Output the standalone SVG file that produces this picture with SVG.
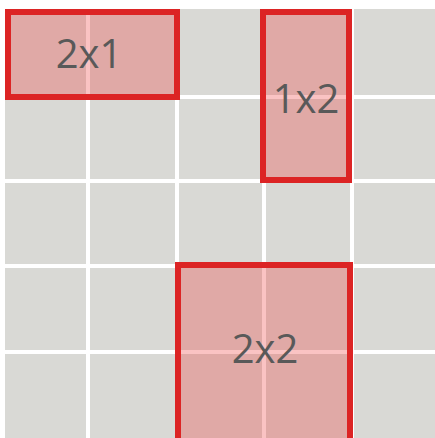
<svg xmlns="http://www.w3.org/2000/svg" width="435" height="438" viewBox="0 0 435 438">
<style>
.grid{stroke:#ffffff;stroke-width:4}
.box{fill:#ee3c3c;fill-opacity:0.31;stroke:#dc2424;stroke-width:6}
.lbl{font-family:"Open Sans","Liberation Sans",sans-serif;font-size:40px;fill:#595959;text-anchor:middle}
</style>
<rect x="0" y="0" width="435" height="438" fill="#ffffff"/>
<rect x="5" y="9" width="430" height="429" fill="#d9d9d5"/>
<g id="grid-lines">
<line class="grid" x1="88" y1="9" x2="88" y2="438"/>
<line class="grid" x1="177" y1="9" x2="177" y2="438"/>
<line class="grid" x1="264" y1="9" x2="264" y2="438"/>
<line class="grid" x1="352" y1="9" x2="352" y2="438"/>
<line class="grid" x1="5" y1="97" x2="435" y2="97"/>
<line class="grid" x1="5" y1="181" x2="435" y2="181"/>
<line class="grid" x1="5" y1="266" x2="435" y2="266"/>
<line class="grid" x1="5" y1="352" x2="435" y2="352"/>
</g>
<g id="tile-2x1">
<rect class="box" x="8" y="12" width="169" height="85"/>
<text class="lbl" x="89" y="68">2x1</text>
</g>
<g id="tile-1x2">
<rect class="box" x="263" y="12" width="86" height="168"/>
<text class="lbl" x="306" y="113">1x2</text>
</g>
<g id="tile-2x2">
<rect class="box" x="178" y="265" width="172" height="178"/>
<text class="lbl" x="265" y="363">2x2</text>
</g>
<g id="connectors"/>
</svg>
